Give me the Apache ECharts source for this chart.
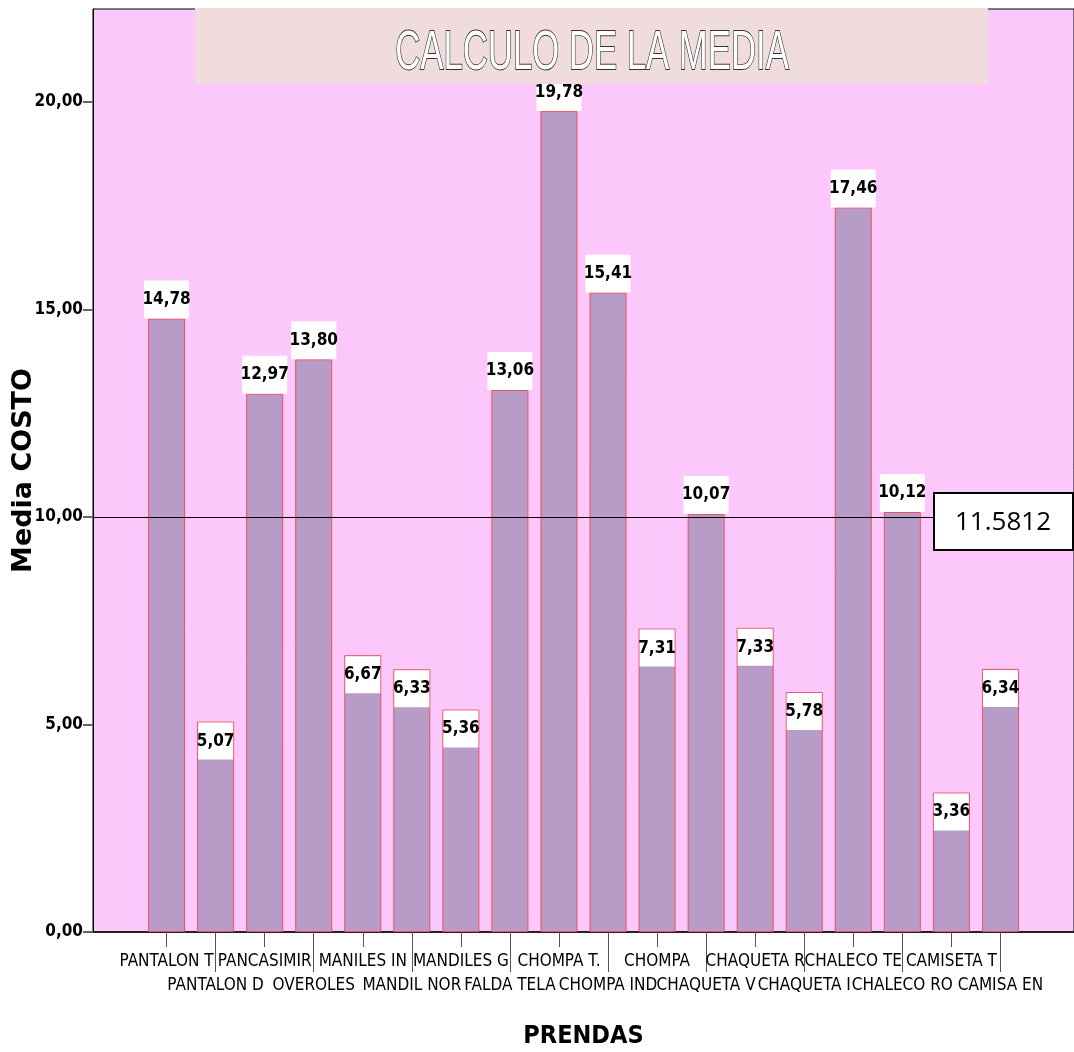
<!DOCTYPE html>
<html>
<head>
<meta charset="utf-8">
<script src="https://cdn.jsdelivr.net/npm/echarts@6/dist/echarts.min.js"></script>
<style>
  html, body { margin: 0; padding: 0; background: #ffffff; }
  #chart { width: 1074px; height: 1052px; }
</style>
</head>
<body>
<div id="chart"></div>
<script>
// Prendas y costo medio de cada una
const prendas = [
  'PANTALON T', 'PANTALON D', 'PANCASIMIR', 'OVEROLES', 'MANILES IN', 'MANDIL NOR',
  'MANDILES G', 'FALDA TELA', 'CHOMPA T.', 'CHOMPA IND', 'CHOMPA', 'CHAQUETA V',
  'CHAQUETA R', 'CHAQUETA I', 'CHALECO TE', 'CHALECO RO', 'CAMISETA T', 'CAMISA EN'
];
const mediaCosto = [
  14.78, 5.07, 12.97, 13.80, 6.67, 6.33,
  5.36, 13.06, 19.78, 15.41, 7.31, 10.07,
  7.33, 5.78, 17.46, 10.12, 3.36, 6.34
];
const yTicks = [0, 5, 10, 15, 20];
const lineaReferencia = 10;
const textoMedia = '11.5812';
const titulo = 'CALCULO DE LA MEDIA';

const NARROW = '"Liberation Sans Narrow", "DejaVu Sans Condensed", "Arial Narrow", sans-serif';
const coma = v => v.toFixed(2).replace('.', ',');

// One empty slot on each side of the categories leaves a gap at both ends of the plot
const categorias = [''].concat(prendas, ['']);
const esFilaSuperior = i => i >= 1 && i <= prendas.length && (i - 1) % 2 === 0;
const esFilaInferior = i => i >= 1 && i <= prendas.length && (i - 1) % 2 === 1;

const etiquetaBase = {
  show: true,
  formatter: p => coma(p.value),
  fontFamily: NARROW,
  fontWeight: 'bold',
  fontSize: 17,
  color: '#000',
  backgroundColor: '#ffffff'
};
const etiquetaArriba = Object.assign({}, etiquetaBase, {
  position: 'top', distance: 0, width: 45, height: 38, lineHeight: 38, align: 'center'
});
const etiquetaDentro = Object.assign({}, etiquetaBase, {
  position: 'insideTop', distance: 1, width: 35, height: 37, lineHeight: 37, align: 'center'
});

const datos = ['-'].concat(
  mediaCosto.map(v => ({ value: v, label: v < 10 ? etiquetaDentro : etiquetaArriba })),
  ['-']
);

const chart = echarts.init(document.getElementById('chart'), null, { renderer: 'canvas' });

chart.setOption({
  animation: false,
  backgroundColor: '#ffffff',
  grid: {
    left: 93, right: 0, top: 9, bottom: 120,
    containLabel: false,
    outerBoundsMode: 'none',
    show: true,
    backgroundColor: '#fcc8fc',
    borderColor: '#000000',
    borderWidth: 1
  },
  xAxis: [
    {
      type: 'category',
      data: categorias,
      boundaryGap: true,
      position: 'bottom',
      name: 'PRENDAS',
      nameLocation: 'middle',
      nameGap: 92,
      nameMoveOverlap: false,
      nameTextStyle: { fontFamily: NARROW, fontWeight: 'bold', fontSize: 25, color: '#000' },
      axisLine: { show: true, lineStyle: { color: '#222', width: 2 } },
      axisTick: {
        show: true, alignWithLabel: true, length: 15,
        interval: (i) => esFilaSuperior(i),
        lineStyle: { color: '#555', width: 1 }
      },
      axisLabel: {
        interval: 0,
        margin: 18,
        fontFamily: NARROW,
        fontSize: 17,
        lineHeight: 24,
        color: '#000',
        formatter: (v, i) => esFilaInferior(i) ? '\n' + v : v
      },
      splitLine: { show: false }
    },
    {
      type: 'category',
      data: categorias,
      boundaryGap: true,
      position: 'bottom',
      axisLine: { show: false },
      axisTick: {
        show: true, alignWithLabel: true, length: 40,
        interval: (i) => esFilaInferior(i),
        lineStyle: { color: '#555', width: 1 }
      },
      axisLabel: { show: false },
      splitLine: { show: false }
    }
  ],
  yAxis: {
    type: 'value',
    min: 0,
    max: 22.24,
    interval: 5,
    name: 'Media COSTO',
    nameLocation: 'middle',
    nameRotate: 90,
    nameGap: 56,
    nameMoveOverlap: false,
    nameTextStyle: { fontFamily: '"DejaVu Sans", sans-serif', fontWeight: 'bold', fontSize: 27, color: '#000' },
    axisLine: { show: true, lineStyle: { color: '#000', width: 1 } },
    axisTick: { show: true, length: 10, customValues: yTicks, lineStyle: { color: '#666', width: 2 } },
    axisLabel: {
      customValues: yTicks,
      margin: 10,
      fontFamily: NARROW,
      fontWeight: 'bold',
      fontSize: 17,
      color: '#000',
      formatter: v => coma(v)
    },
    splitLine: { show: false }
  },
  series: [
    {
      type: 'bar',
      xAxisIndex: 0,
      data: datos,
      barWidth: 37,
      itemStyle: { color: '#b89cc8', borderColor: '#f0505a', borderWidth: 1 },
      markLine: {
        silent: true,
        symbol: ['none', 'none'],
        label: { show: false },
        lineStyle: { color: '#000', width: 1.2, type: 'solid' },
        data: [{ yAxis: lineaReferencia }]
      }
    }
  ],
  graphic: [
    {
      type: 'rect', z: 100,
      shape: { x: 195, y: 8, width: 793, height: 76 },
      style: { fill: '#f0dcdc' }
    },
    {
      type: 'text', z: 101,
      x: 592, y: 54, scaleX: 0.62,
      style: {
        text: titulo,
        font: '56px "Liberation Sans", Arial, sans-serif',
        fill: '#ffffff',
        stroke: '#333333',
        lineWidth: 1.8,
        textAlign: 'center',
        textVerticalAlign: 'middle'
      }
    },
    {
      type: 'rect', z: 100,
      shape: { x: 934, y: 493, width: 139, height: 57 },
      style: { fill: '#ffffff', stroke: '#000000', lineWidth: 2 }
    },
    {
      type: 'text', z: 101,
      x: 1003, y: 523,
      style: {
        text: textoMedia,
        font: '26px "Open Sans", sans-serif',
        fill: '#000',
        textAlign: 'center',
        textVerticalAlign: 'middle'
      }
    }
  ]
});
</script>
</body>
</html>
